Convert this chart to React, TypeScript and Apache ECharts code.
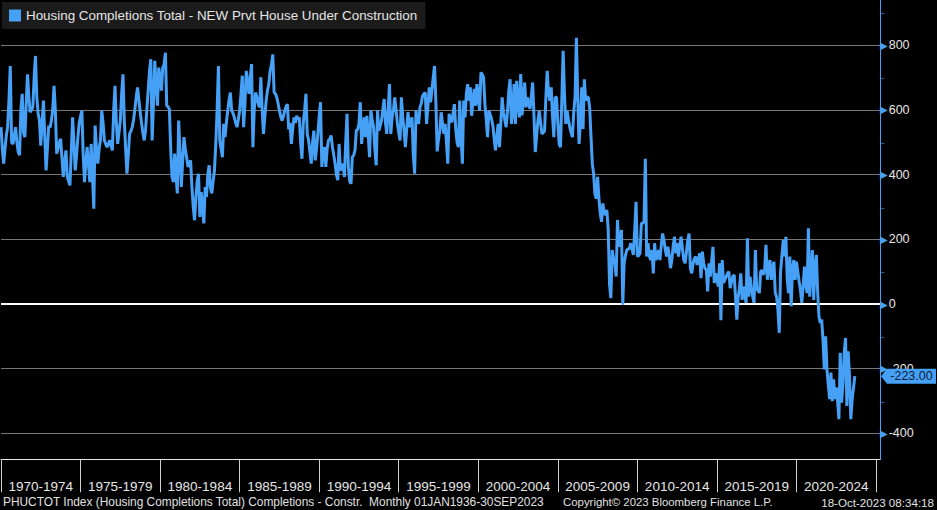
import React, { useEffect, useRef } from "react";
import * as echarts from "echarts";

const seriesName = "Housing Completions Total - NEW Prvt House Under Construction";
const lineColor = "#46a0f5";

const bandLabels = [
  "1970-1974", "1975-1979", "1980-1984", "1985-1989", "1990-1994", "1995-1999",
  "2000-2004", "2005-2009", "2010-2014", "2015-2019", "2020-2024",
];

const gridValues = [-400, -200, 200, 400, 600, 800];
const majorTicks = [-400, -200, 0, 200, 400, 600, 800];

const footerLeft = "PHUCTOT Index (Housing Completions Total) Completions - Constr.  Monthly 01JAN1936-30SEP2023";
const footerMid = "Copyright\u00A9 2023 Bloomberg Finance L.P.";
const footerRight = "18-Oct-2023 08:34:18";

// monthly values, Jan of first year to Dec of last year of each band
const v1970_1974 = [
  547, 480, 434, 480, 520, 547, 630, 736, 500, 495, 520, 547,
  500, 470, 460, 600, 650, 530, 516, 620, 710, 640, 593, 600,
  608, 700, 767, 640, 590, 567, 490, 560, 629, 520, 413, 480,
  552, 545, 567, 600, 675, 600, 465, 480, 500, 511, 450, 393,
  440, 475, 393, 380, 367, 470, 577, 500, 413, 460, 516, 560,
];
const v1975_1979 = [
  580, 598, 460, 377, 440, 485, 430, 377, 495, 400, 295, 552,
  480, 434, 480, 506, 598, 560, 506, 495, 485, 495, 506, 490,
  475, 600, 675, 560, 495, 530, 567, 650, 710, 567, 480, 403,
  460, 526, 535, 547, 570, 603, 640, 670, 630, 593, 560, 530,
  506, 536, 600, 660, 720, 757, 506, 620, 752, 680, 613, 731,
];
const v1980_1984 = [
  700, 660, 731, 740, 777, 613, 610, 603, 480, 393, 377, 465,
  400, 342, 567, 470, 362, 440, 516, 480, 454, 424, 435, 444,
  362, 300, 259, 331, 380, 403, 269, 346, 300, 249, 362, 331,
  400, 429, 360, 342, 380, 413, 495, 600, 736, 506, 480, 454,
  557, 516, 560, 598, 630, 654, 598, 590, 577, 560, 547, 570,
];
const v1985_1989 = [
  598, 650, 706, 547, 620, 721, 690, 650, 700, 742, 485, 600,
  654, 639, 620, 608, 701, 600, 526, 580, 629, 660, 680, 721,
  740, 772, 654, 650, 639, 620, 598, 580, 567, 580, 598, 610,
  618, 540, 560, 495, 540, 577, 560, 582, 570, 577, 500, 449,
  560, 598, 650, 526, 506, 470, 434, 500, 536, 444, 480, 526,
];
const v1990_1994 = [
  580, 624, 424, 470, 485, 424, 480, 506, 510, 521, 485, 460,
  434, 400, 383, 495, 413, 420, 434, 393, 500, 588, 424, 380,
  372, 454, 460, 475, 536, 540, 557, 624, 495, 540, 577, 516,
  582, 520, 454, 598, 570, 547, 480, 429, 598, 536, 550, 567,
  600, 634, 560, 526, 600, 680, 526, 577, 600, 639, 600, 557,
];
const v1995_1999 = [
  530, 506, 639, 580, 536, 485, 540, 593, 547, 560, 577, 460,
  403, 598, 570, 557, 608, 620, 644, 650, 654, 557, 610, 670,
  624, 660, 700, 736, 626, 472, 510, 536, 593, 560, 526, 557,
  500, 434, 588, 570, 562, 590, 618, 541, 500, 485, 629, 520,
  434, 629, 577, 650, 680, 629, 670, 582, 630, 665, 613, 680,
];
const v2000_2004 = [
  640, 598, 716, 710, 701, 618, 570, 516, 598, 585, 572, 552,
  510, 475, 520, 557, 485, 560, 639, 593, 570, 547, 593, 660,
  695, 557, 600, 680, 557, 690, 630, 577, 711, 583, 630, 685,
  608, 639, 620, 603, 640, 685, 583, 470, 520, 567, 598, 560,
  526, 530, 536, 640, 721, 650, 629, 670, 580, 516, 639, 639,
];
const v2005_2009 = [
  560, 495, 485, 630, 783, 650, 557, 598, 570, 547, 530, 516,
  593, 639, 823, 639, 495, 560, 670, 541, 695, 629, 640, 639,
  608, 520, 434, 403, 340, 326, 393, 326, 280, 254, 311, 275,
  285, 290, 229, 60, 18, 167, 140, 126, 85, 260, 177, 200,
  229, -2, 126, 150, 167, 170, 172, 188, 170, 152, 230, 316,
];
const v2010_2014 = [
  147, 150, 157, 249, 250, 254, 449, 147, 188, 150, 136, 167,
  95, 188, 136, 150, 167, 136, 180, 218, 198, 170, 147, 177,
  150, 111, 136, 180, 208, 157, 188, 147, 180, 208, 170, 136,
  126, 160, 198, 218, 110, 95, 126, 140, 147, 121, 135, 157,
  80, 162, 126, 110, 106, 39, 126, 85, 130, 177, 65, 95,
];
const v2015_2019 = [
  80, 54, 126, -50, 136, 65, 75, 85, 95, 100, 49, 70,
  85, 90, 23, -48, 20, 49, 95, 13, 54, 30, 3, 203,
  23, 85, 50, 23, 3, 167, 44, 44, 34, 100, 105, 90,
  105, 183, 75, 110, 136, 75, 110, 131, 34, 23, -17, -89,
  100, 147, 198, 147, 208, 80, 34, 147, -7, 110, 136, 75,
];
const v2020_2023 = [
  131, 100, 70, 44, 3, 54, 116, 60, 34, 234, 23, 100,
  167, 13, 116, 152, 34, -40, -58, -48, -110, -202, -100, -202,
  -250, -294, -212, -300, -233, -294, -258, -300, -356, -151, -305, -250,
  -151, -105, -315, -146, -223, -356, -294, -260, -223,
];

const values = [
  ...v1970_1974, ...v1975_1979, ...v1980_1984, ...v1985_1989, ...v1990_1994,
  ...v1995_1999, ...v2000_2004, ...v2005_2009, ...v2010_2014, ...v2015_2019,
  ...v2020_2023,
];

// axis runs Jan 1970 through Apr 2025
const axisMonths: string[] = [];
for (let i = 0; i < 664; i++) {
  const y = 1970 + Math.floor(i / 12);
  const m = (i % 12) + 1;
  axisMonths.push(`${y}-${m < 10 ? "0" + m : m}`);
}

const FONT = "'Liberation Sans', Arial, sans-serif";

export default function App() {
  const ref = useRef<HTMLDivElement>(null);
  useEffect(() => {
    if (!ref.current) return;
    const chart = echarts.init(ref.current, undefined, { renderer: "svg" });
    const last = values[values.length - 1];
    chart.setOption({
      animation: false,
      backgroundColor: "#000000",
      textStyle: { fontFamily: FONT },
      legend: {
        data: [seriesName],
        left: 2,
        top: 2,
        padding: [7, 8, 7, 7],
        backgroundColor: "#1b1b1b",
        icon: "rect",
        itemWidth: 12,
        itemHeight: 12,
        itemGap: 5,
        textStyle: { color: "#e6e6e6", fontSize: 13.4, fontFamily: FONT },
        selectedMode: false,
      },
      grid: { left: 1, right: 57, top: -1, bottom: 50.7, containLabel: false },
      xAxis: {
        type: "category",
        data: axisMonths,
        boundaryGap: false,
        axisLine: { show: true, onZero: false, lineStyle: { color: "#e8e8e8", width: 1 } },
        axisTick: {
          show: true,
          interval: (index: number) => index % 60 === 0,
          length: 33,
          lineStyle: { color: "#cfcfcf", width: 1 },
        },
        axisLabel: {
          interval: (index: number) => index % 60 === 30,
          formatter: (_v: string, index: number) => bandLabels[Math.floor(index / 60)] || "",
          color: "#e6e6e6",
          fontSize: 13.5,
          fontFamily: FONT,
          margin: 20,
          lineHeight: 14,
        },
        splitLine: { show: false },
      },
      yAxis: {
        type: "value",
        position: "right",
        min: -480,
        max: 940,
        interval: 20,
        axisLine: { show: true, lineStyle: { color: lineColor, width: 1 } },
        axisTick: { show: false },
        splitLine: { show: false },
        axisLabel: {
          margin: 0,
          formatter: (v: number) => {
            const r = Math.round(v);
            if (majorTicks.indexOf(r) >= 0) return `{a|\u25B6}{n|${r}}`;
            if (r % 100 === 0) return "{t|\u2013}";
            return "";
          },
          rich: {
            a: { color: lineColor, fontSize: 10, fontFamily: "'DejaVu Sans'", padding: [0, 1, 0, 0] },
            n: { color: "#e6e6e6", fontSize: 12.5, fontFamily: FONT },
            t: { color: lineColor, fontSize: 8, fontFamily: FONT },
          },
        },
      },
      graphic: [
        {
          type: "text",
          x: 3,
          y: 502,
          style: { text: footerLeft, fill: "#e0e0e0", fontSize: 11.9, fontFamily: FONT, verticalAlign: "middle" },
        },
        {
          type: "text",
          x: 563,
          y: 502,
          style: { text: footerMid, fill: "#e0e0e0", fontSize: 11.4, fontFamily: FONT, verticalAlign: "middle" },
        },
        {
          type: "text",
          x: 934,
          y: 502,
          style: { text: footerRight, fill: "#e0e0e0", fontSize: 11.6, fontFamily: FONT, align: "right", verticalAlign: "middle" },
        },
      ],
      series: [
        {
          name: seriesName,
          type: "line",
          data: values,
          showSymbol: false,
          symbol: "none",
          color: lineColor,
          itemStyle: { color: lineColor },
          lineStyle: { color: lineColor, width: 3 },
          z: 3,
          markLine: {
            silent: true,
            z: 1,
            symbol: ["none", "none"],
            label: { show: false },
            data: [
              ...gridValues.map((v) => ({ yAxis: v, lineStyle: { color: "#777777", width: 1, type: "solid" } })),
              { yAxis: 0, lineStyle: { color: "#ffffff", width: 2, type: "solid" } },
            ],
          },
          markPoint: {
            silent: true,
            z: 6,
            symbol: "path://M0,7.5 L6,0 L55,0 L55,15 L6,15 Z",
            symbolSize: [55, 15],
            symbolKeepAspect: false,
            symbolOffset: [28.5, 0],
            itemStyle: { color: lineColor },
            label: {
              show: true,
              position: "inside",
              offset: [3, 0],
              color: "#0d2036",
              fontSize: 12.5,
              fontFamily: FONT,
              formatter: () => last.toFixed(2),
            },
            data: [{ coord: [axisMonths.length - 1, last], value: last }],
          },
        },
      ],
    });
    return () => chart.dispose();
  }, []);
  return (
    <div
      ref={ref}
      style={{ position: "absolute", left: 0, top: 0, width: 937, height: 510, background: "#000" }}
    />
  );
}
